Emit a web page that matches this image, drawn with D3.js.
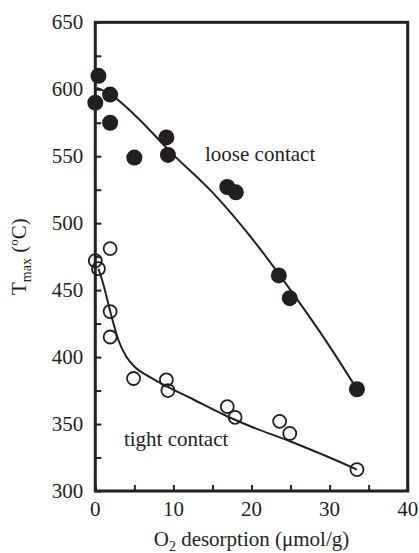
<!DOCTYPE html>
<html>
<head>
<meta charset="utf-8">
<script src="https://cdn.jsdelivr.net/npm/d3@7"></script>
<style>
  html, body { margin: 0; padding: 0; background: #fff; }
  svg { display: block; }
</style>
</head>
<body>
<svg id="chart"></svg>
<script>
// loose contact (filled circles)
const looseX = [0.4, 0, 1.9, 1.9, 5.0, 9.1, 9.3, 16.9, 18.0, 23.5, 24.9, 33.5];
const looseY = [610, 590, 596, 575, 549, 564, 551, 527, 523, 461, 444, 376];
// tight contact (open circles)
const tightX = [0, 0.4, 1.9, 1.9, 1.9, 4.9, 9.1, 9.3, 16.9, 17.9, 23.6, 24.9, 33.5];
const tightY = [472, 466, 481, 434, 415, 384, 383, 375, 363, 355, 352, 343, 316];
// fitted curves
const looseFitX = [0.2, 2, 5, 10, 15, 20, 25, 30, 33.5];
const looseFitY = [601, 596, 581, 551, 523, 489, 450, 408, 376];
const tightFitX = [0.4, 1, 2, 3, 4, 5, 7, 9.2, 12, 16.8, 20, 25, 30, 33.5];
const tightFitY = [466, 455, 432, 412, 400, 393, 385, 378, 370, 356, 348, 337, 325, 316];
// axis ticks
const xTicks = [0, 5, 10, 15, 20, 25, 30, 35, 40];
const xLabels = [0, 10, 20, 30, 40];
const yTicks = [300, 325, 350, 375, 400, 425, 450, 475, 500, 525, 550, 575, 600, 625, 650];
const yLabels = [300, 350, 400, 450, 500, 550, 600, 650];
// annotations
const notes = ['loose contact', 'tight contact'];
const noteX = [14.05, 3.67];
const noteY = [546.6, 333.6];

const W = 419, H = 553;
const ink = '#231f20';
const serif = '"Liberation Serif", "Times New Roman", Times, "DejaVu Serif", serif';
const margin = { top: 22.3, right: 11.3, bottom: 62, left: 95.3 };

const svg = d3.select('#chart').attr('width', W).attr('height', H)
  .attr('font-family', serif);

const x = d3.scaleLinear().domain([0, 40]).range([margin.left, W - margin.right]);
const y = d3.scaleLinear().domain([300, 650]).range([H - margin.bottom, margin.top]);

// ticks (inward)
svg.append('g')
  .attr('transform', `translate(0,${y(300)})`)
  .call(d3.axisTop(x).tickValues(xTicks).tickSize(6).tickFormat(''))
  .call(g => g.select('.domain').remove())
  .call(g => g.selectAll('line').attr('stroke', ink).attr('stroke-width', 2));

svg.append('g')
  .attr('transform', `translate(${x(0)},0)`)
  .call(d3.axisRight(y).tickValues(yTicks).tickSize(6).tickFormat(''))
  .call(g => g.select('.domain').remove())
  .call(g => g.selectAll('line').attr('stroke', ink).attr('stroke-width', 2));

// tick labels
svg.append('g').selectAll('text')
  .data(xLabels).join('text')
  .attr('x', d => x(d))
  .attr('y', y(300) + 25)
  .attr('text-anchor', 'middle')
  .attr('font-family', serif)
  .attr('font-size', 21)
  .attr('fill', ink)
  .text(d => d);

svg.append('g').selectAll('text')
  .data(yLabels).join('text')
  .attr('x', x(0) - 12)
  .attr('y', d => y(d))
  .attr('dy', '0.34em')
  .attr('text-anchor', 'end')
  .attr('font-family', serif)
  .attr('font-size', 21)
  .attr('fill', ink)
  .text(d => d);

// frame
svg.append('rect')
  .attr('x', x(0)).attr('y', y(650))
  .attr('width', x(40) - x(0)).attr('height', y(300) - y(650))
  .attr('fill', 'none').attr('stroke', ink).attr('stroke-width', 3);

// fitted lines
const line = d3.line().x(d => x(d[0])).y(d => y(d[1])).curve(d3.curveMonotoneX);
svg.append('path')
  .datum(d3.zip(looseFitX, looseFitY))
  .attr('d', line)
  .attr('fill', 'none').attr('stroke', ink).attr('stroke-width', 2);
svg.append('path')
  .datum(d3.zip(tightFitX, tightFitY))
  .attr('d', line)
  .attr('fill', 'none').attr('stroke', ink).attr('stroke-width', 2);

// points
svg.append('g').selectAll('circle')
  .data(d3.zip(tightX, tightY)).join('circle')
  .attr('cx', d => x(d[0])).attr('cy', d => y(d[1]))
  .attr('r', 6.5)
  .attr('fill', 'none').attr('stroke', ink).attr('stroke-width', 1.8);

svg.append('g').selectAll('circle')
  .data(d3.zip(looseX, looseY)).join('circle')
  .attr('cx', d => x(d[0])).attr('cy', d => y(d[1]))
  .attr('r', 8)
  .attr('fill', ink);

// annotations
svg.append('g').selectAll('text')
  .data(notes).join('text')
  .attr('x', (d, i) => x(noteX[i]))
  .attr('y', (d, i) => y(noteY[i]))
  .attr('font-family', serif)
  .attr('font-size', 21)
  .attr('fill', ink)
  .text(d => d);

// axis titles
const xt = svg.append('text')
  .attr('x', (x(0) + x(40)) / 2)
  .attr('y', 546)
  .attr('text-anchor', 'middle')
  .attr('font-family', serif)
  .attr('font-size', 21)
  .attr('fill', ink);
xt.append('tspan').text('O');
xt.append('tspan').attr('font-size', 14).attr('dy', 5).text('2');
xt.append('tspan').attr('dy', -5).text(' desorption (\u03bcmol/g)');

const yt = svg.append('text')
  .attr('transform', `translate(26,${(y(300) + y(650)) / 2}) rotate(-90)`)
  .attr('text-anchor', 'middle')
  .attr('font-family', serif)
  .attr('font-size', 21)
  .attr('fill', ink);
yt.append('tspan').text('T');
yt.append('tspan').attr('font-size', 14).attr('dy', 5).text('max');
yt.append('tspan').attr('dy', -5).text(' (');
yt.append('tspan').attr('font-size', 13).attr('dy', -8).text('o');
yt.append('tspan').attr('dy', 8).text('C)');
</script>
</body>
</html>
